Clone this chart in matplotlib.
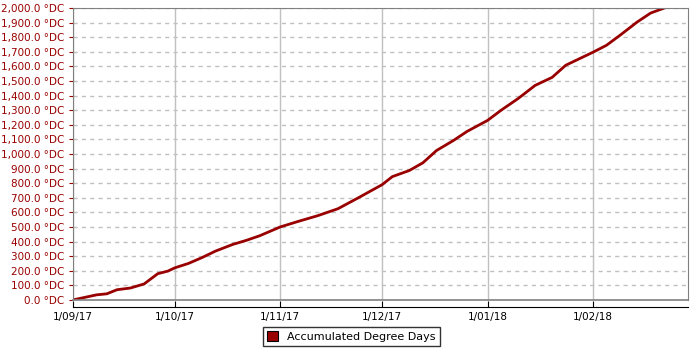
import datetime as dt

import matplotlib
matplotlib.use("Agg")
import matplotlib.pyplot as plt
import matplotlib.dates as mdates
from matplotlib.ticker import FuncFormatter, MultipleLocator
from matplotlib.patches import Patch

# Accumulated degree days
dates = [
    "2017-09-01", "2017-09-04", "2017-09-08", "2017-09-11", "2017-09-14",
    "2017-09-18", "2017-09-22", "2017-09-26", "2017-09-29", "2017-10-01",
    "2017-10-05", "2017-10-09", "2017-10-13", "2017-10-18", "2017-10-22",
    "2017-10-26", "2017-11-01", "2017-11-06", "2017-11-12", "2017-11-18",
    "2017-11-24", "2017-12-01", "2017-12-04", "2017-12-09", "2017-12-13",
    "2017-12-17", "2017-12-22", "2017-12-26", "2018-01-01", "2018-01-05",
    "2018-01-10", "2018-01-15", "2018-01-20", "2018-01-24", "2018-02-01",
    "2018-02-05", "2018-02-09", "2018-02-14", "2018-02-18", "2018-02-22",
]
degree_days = [
    0, 15, 35, 42, 70, 82, 110, 180, 198, 220,
    250, 290, 335, 380, 408, 440, 500, 536, 577, 625,
    700, 790, 845, 887, 940, 1024, 1093, 1155, 1230, 1300,
    1380, 1470, 1525, 1608, 1697, 1745, 1814, 1904, 1966, 2000,
]
tick_dates = ["2017-09-01", "2017-10-01", "2017-11-01", "2017-12-01",
              "2018-01-01", "2018-02-01"]

x = [dt.datetime.strptime(d, "%Y-%m-%d") for d in dates]
ticks = [dt.datetime.strptime(d, "%Y-%m-%d") for d in tick_dates]

dark_red = "#990000"
plt.rcParams["font.family"] = "DejaVu Sans"
plt.rcParams["font.size"] = 7.5

fig = plt.figure(figsize=(7, 3.5), dpi=100)
ax = fig.add_axes([0.104, 0.143, 0.879, 0.834])

ax.plot(x, degree_days, color=dark_red, linewidth=2, solid_joinstyle="miter")

ax.set_xlim(dt.datetime(2017, 9, 1), dt.datetime(2018, 3, 1))
ax.set_ylim(0, 2000)

ax.yaxis.set_major_locator(MultipleLocator(100))
ax.yaxis.set_major_formatter(FuncFormatter(lambda v, p: f"{v:,.1f} °DC"))
ax.tick_params(axis="y", colors=dark_red, length=3, pad=3, labelsize=7.5)

ax.set_xticks(ticks)
ax.xaxis.set_major_formatter(FuncFormatter(
    lambda v, p: "{d.day}/{d.month:02d}/{y}".format(
        d=mdates.num2date(v), y=mdates.num2date(v).strftime("%y"))))
ax.tick_params(axis="x", colors="black", direction="in", length=4, pad=4,
               labelsize=7.5)

ax.grid(axis="x", color="#c0c0c0", linewidth=1, linestyle="-")
ax.grid(axis="y", color="#c0c0c0", linewidth=1, linestyle=(0, (3, 3)))
ax.set_axisbelow(True)

for side in ["top", "right"]:
    ax.spines[side].set_color("#808080")
ax.spines["left"].set_color("#808080")
ax.spines["bottom"].set_position(("outward", 5))
ax.spines["bottom"].set_color("black")
ax.plot([0, 1], [0, 0], transform=ax.transAxes, color="#808080",
        linewidth=1.2, clip_on=False)

handle = Patch(facecolor=dark_red, edgecolor="black", linewidth=0.8)
leg = fig.legend([handle], ["Accumulated Degree Days"], loc="center",
                 bbox_to_anchor=(0.502, 0.0385), frameon=True, fancybox=False,
                 handlelength=1.0, handleheight=1.0, borderpad=0.4,
                 fontsize=8)
leg.get_frame().set_edgecolor("black")
leg.get_frame().set_linewidth(1)

fig.savefig("out.png", dpi=100)
